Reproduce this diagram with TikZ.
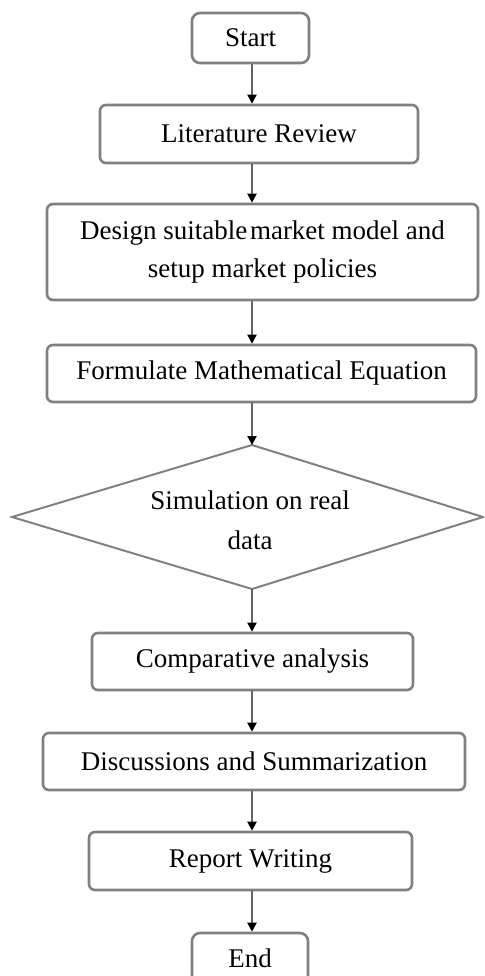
\documentclass[tikz,border=0pt]{standalone}
\usepackage{fontspec}
\setmainfont{Liberation Serif}
\usetikzlibrary{arrows.meta}
\definecolor{boxline}{RGB}{128,128,128}
\definecolor{flowline}{RGB}{100,100,100}
\begin{document}
\begin{tikzpicture}[x=1pt,y=1pt,
  stepbox/.style={draw=boxline, line width=2.6pt, rounded corners=6pt, fill=white,
    inner sep=0pt, align=center, font=\fontsize{27}{38}\selectfont},
  decisiontext/.style={inner sep=0pt, align=center, font=\fontsize{27}{40}\selectfont},
  decisionline/.style={draw=boxline, line width=2pt, line join=miter},
  flow/.style={draw=flowline, line width=2pt,
    -{Triangle[width=9pt,length=9pt,color=black]}}]
  \useasboundingbox (0,0) rectangle (484,-976);
  \clip (0,0) rectangle (484,-976);
  \fill[white] (0,0) rectangle (484,-976);

  % vertical spine the connectors run along
  \coordinate (spine) at (252,0);

  \node[stepbox, minimum width=117pt, minimum height=50pt, rounded corners=8pt]
    (start) at (250.5,-38) {Start};
  \node[stepbox, minimum width=318pt, minimum height=58pt]
    (lit) at (259,-134) {Literature Review};
  \node[stepbox, minimum width=431pt, minimum height=96pt]
    (design) at (262.5,-252) {Design suitable\hspace{0.1em}market model and\\setup market policies};
  \node[stepbox, minimum width=429pt, minimum height=57pt]
    (formulate) at (261.5,-373.5) {Formulate Mathematical Equation};

  % decision: outline through its four corners, text in the middle
  \coordinate (simtop) at (252,-445);
  \coordinate (simright) at (483,-517);
  \coordinate (simbottom) at (252,-589);
  \coordinate (simleft) at (12,-517);
  \draw[decisionline] (simtop) -- (simright) -- (simbottom) -- (simleft) -- cycle;
  \node[decisiontext] (sim) at (250,-520) {Simulation on real\\data};

  \node[stepbox, minimum width=321pt, minimum height=57pt]
    (compare) at (252.5,-661.5) {Comparative analysis};
  \node[stepbox, minimum width=422pt, minimum height=57pt]
    (discuss) at (254,-761.5) {Discussions and Summarization};
  \node[stepbox, minimum width=323pt, minimum height=58pt]
    (report) at (250.5,-861) {Report Writing};
  \node[stepbox, minimum width=116pt, minimum height=50pt, rounded corners=8pt]
    (end) at (250,-958) {End};

  \draw[flow] (start.south -| spine) -- (lit.north -| spine);
  \draw[flow] (lit.south -| spine) -- (design.north -| spine);
  \draw[flow] (design.south -| spine) -- (formulate.north -| spine);
  \draw[flow] (formulate.south -| spine) -- (simtop);
  \draw[flow] (simbottom) -- (compare.north -| simbottom);
  \draw[flow] (compare.south -| spine) -- (discuss.north -| spine);
  \draw[flow] (discuss.south -| spine) -- (report.north -| spine);
  \draw[flow] (report.south -| spine) -- (end.north -| spine);
\end{tikzpicture}
\end{document}
